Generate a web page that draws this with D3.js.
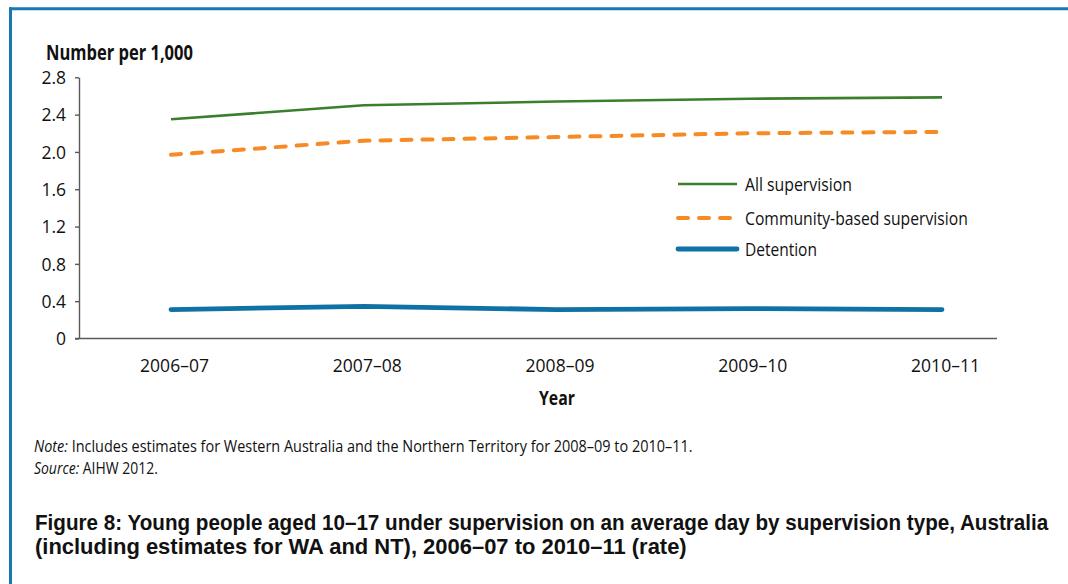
<!DOCTYPE html>
<html>
<head>
<meta charset="utf-8">
<script src="https://cdn.jsdelivr.net/npm/d3@7"></script>
<style>
  body { margin: 0; background: #fff; }
  svg { display: block; font-family: "Open Sans", sans-serif; }
</style>
</head>
<body>
<svg id="chart" width="1068" height="584"></svg>
<script>
// datos
const years = ["2006–07", "2007–08", "2008–09", "2009–10", "2010–11"];
const allSupervision = [2.35, 2.50, 2.54, 2.57, 2.585];
const communitySupervision = [1.97, 2.12, 2.16, 2.20, 2.215];
const detention = [0.31, 0.345, 0.31, 0.32, 0.31];
const yTicks = [0, 0.4, 0.8, 1.2, 1.6, 2.0, 2.4, 2.8];

const series = [
  { name: "All supervision", values: allSupervision, color: "#3b7f2d", width: 2.6, dash: null },
  { name: "Community-based supervision", values: communitySupervision, color: "#f68b26", width: 4, dash: "10,11" },
  { name: "Detention", values: detention, color: "#0e72a6", width: 4.8, dash: null }
];

const svg = d3.select("#chart");
const axisColor = "#5a5a5a";
const narrow = "'Liberation Sans Narrow', 'Liberation Sans', sans-serif";

// escala una etiqueta al ancho que ocupa en la figura
function ajustar(txt, ancho) {
  const w = txt.node().getComputedTextLength();
  const x = +txt.attr("x"), y = +txt.attr("y");
  txt.attr("transform", `translate(${x},${y}) scale(${ancho / w},1) translate(${-x},${-y})`);
}

// marco azul
svg.append("line").attr("x1", 9).attr("x2", 1068).attr("y1", 8.7).attr("y2", 8.7)
  .attr("stroke", "#1878b2").attr("stroke-width", 3);
svg.append("line").attr("x1", 10.5).attr("x2", 10.5).attr("y1", 7.2).attr("y2", 584)
  .attr("stroke", "#1878b2").attr("stroke-width", 3);

const x = d3.scalePoint().domain(years).range([171, 942]);
const y = d3.scaleLinear().domain([0, 2.8]).range([338.5, 77.3]);

// eje y
const gy = svg.append("g").attr("transform", "translate(79,0)")
  .call(d3.axisLeft(y).tickValues(yTicks).tickSize(4).tickSizeOuter(0).tickPadding(9)
    .tickFormat(d => d === 0 ? "0" : d3.format(".1f")(d)));
gy.select(".domain").attr("stroke", axisColor).attr("stroke-width", 1.4);
gy.selectAll(".tick line").attr("stroke", axisColor).attr("stroke-width", 1.4);
gy.selectAll(".tick text").attr("font-family", "Open Sans").attr("font-size", 17.5)
  .attr("fill", "#111").attr("dy", "0.36em");

// eje x
svg.append("line").attr("x1", 75).attr("x2", 997).attr("y1", y(0)).attr("y2", y(0))
  .attr("stroke", axisColor).attr("stroke-width", 1.4);
const gx = svg.append("g").attr("transform", `translate(3,${y(0)})`)
  .call(d3.axisBottom(x).tickSize(0).tickPadding(0));
gx.select(".domain").remove();
gx.selectAll(".tick text").attr("font-family", "Open Sans").attr("font-size", 17.5)
  .attr("fill", "#111").attr("dy", 0).attr("y", 33);

// lineas
const line = d3.line().x((d, i) => x(years[i])).y(d => y(d));
series.forEach(s => {
  svg.append("path").datum(s.values)
    .attr("d", line)
    .attr("fill", "none")
    .attr("stroke", s.color)
    .attr("stroke-width", s.width)
    .attr("stroke-linecap", s.name === "All supervision" ? "butt" : "round")
    .attr("stroke-dasharray", s.dash);
});

// leyenda
const legendY = [184, 218, 249];
const legendW = [107, 223, 72];
series.forEach((s, i) => {
  svg.append("line").attr("x1", 678).attr("x2", 737)
    .attr("y1", legendY[i]).attr("y2", legendY[i])
    .attr("stroke", s.color).attr("stroke-width", s.width)
    .attr("stroke-linecap", s.name === "All supervision" ? "butt" : "round")
    .attr("stroke-dasharray", s.dash);
  const t = svg.append("text").attr("x", 745).attr("y", legendY[i] + 7.5)
    .attr("font-size", 19).attr("fill", "#111").text(s.name);
  ajustar(t, legendW[i]);
});

// titulos
const tTitulo = svg.append("text").attr("x", 46).attr("y", 60)
  .attr("font-size", 20.5).attr("font-weight", "bold").attr("fill", "#111")
  .text("Number per 1,000");
ajustar(tTitulo, 147);

const tYear = svg.append("text").attr("x", 539).attr("y", 405.5)
  .attr("font-size", 19).attr("font-weight", "bold").attr("fill", "#111")
  .text("Year");
ajustar(tYear, 36);

// nota y fuente
const tNote = svg.append("text").attr("x", 34).attr("y", 452).attr("font-size", 16.5).attr("fill", "#111");
tNote.append("tspan").attr("font-style", "italic").text("Note:");
tNote.append("tspan").text(" Includes estimates for Western Australia and the Northern Territory for 2008–09 to 2010–11.");
ajustar(tNote, 659);

const tSource = svg.append("text").attr("x", 34).attr("y", 474).attr("font-size", 16.5).attr("fill", "#111");
tSource.append("tspan").attr("font-style", "italic").text("Source:");
tSource.append("tspan").text(" AIHW 2012.");
ajustar(tSource, 124);

// pie de figura
const caption = [
  "Figure 8: Young people aged 10–17 under supervision on an average day by supervision type, Australia",
  "(including estimates for WA and NT), 2006–07 to 2010–11 (rate)"
];
const captionW = [1014, 652];
caption.forEach((c, i) => {
  const t = svg.append("text").attr("x", 35).attr("y", 530 + i * 24.5)
    .attr("font-family", narrow)
    .attr("font-size", 21.5).attr("font-weight", "bold").attr("fill", "#111").text(c);
  ajustar(t, captionW[i]);
});
</script>
</body>
</html>
